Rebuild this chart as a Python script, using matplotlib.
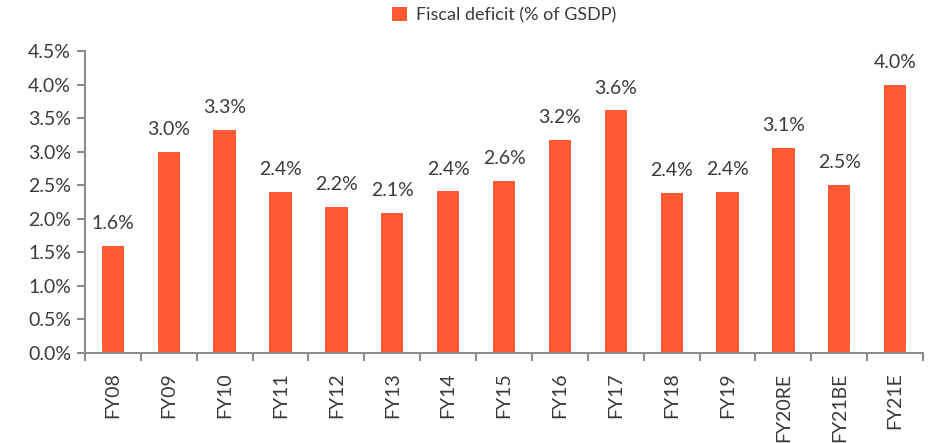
import numpy as np
import matplotlib
matplotlib.use("Agg")
import matplotlib.pyplot as plt
from matplotlib.ticker import FixedLocator, PercentFormatter

plt.rcParams['font.family'] = ['Lato', 'DejaVu Sans']

# Données
annees = ['FY08', 'FY09', 'FY10', 'FY11', 'FY12', 'FY13', 'FY14', 'FY15',
          'FY16', 'FY17', 'FY18', 'FY19', 'FY20RE', 'FY21BE', 'FY21E']
deficit = [1.6, 3.0, 3.33, 2.4, 2.18, 2.09, 2.41, 2.57,
           3.18, 3.62, 2.39, 2.4, 3.06, 2.51, 4.0]

couleur = '#FF5B33'
gris = '#3a3a3a'
axe = '#8c8c8c'

fig = plt.figure(figsize=(9.41, 4.43), dpi=100)
ax = fig.add_axes([0.0903, 0.2032, 0.8907, 0.6817])

x = np.arange(len(annees))
barres = ax.bar(x, deficit, width=0.4, color=couleur, label='Fiscal deficit (% of GSDP)')

for xi, v in zip(x, deficit):
    ax.text(xi, v + 0.2, f'{v:.1f}%', ha='center', va='bottom', fontsize=14,
            color=gris)

ax.set_xlim(-0.5, len(annees) - 0.5)
ax.set_ylim(0, 4.5)
ax.set_yticks(np.arange(0, 4.51, 0.5))
ax.yaxis.set_major_formatter(PercentFormatter(decimals=1))

ax.set_xticks(x)
ax.set_xticklabels(annees, rotation=90)
ax.xaxis.set_minor_locator(FixedLocator(np.arange(-0.5, len(annees), 1.0)))
ax.tick_params(axis='x', which='major', length=0, pad=14, labelsize=14, labelcolor=gris)
ax.tick_params(axis='x', which='minor', length=6, width=1.5, color=axe)
ax.tick_params(axis='y', length=6, width=1.5, color=axe, labelsize=14, labelcolor=gris, pad=4)

for s in ['top', 'right']:
    ax.spines[s].set_visible(False)
for s in ['left', 'bottom']:
    ax.spines[s].set_color(axe)
    ax.spines[s].set_linewidth(1.5)

leg = ax.legend(loc='upper center', bbox_to_anchor=(0.5, 1.2), frameon=False,
                fontsize=13, handlelength=0.8, handleheight=0.8, handletextpad=0.5)
for t in leg.get_texts():
    t.set_color(gris)

fig.savefig('out.png', dpi=100)
